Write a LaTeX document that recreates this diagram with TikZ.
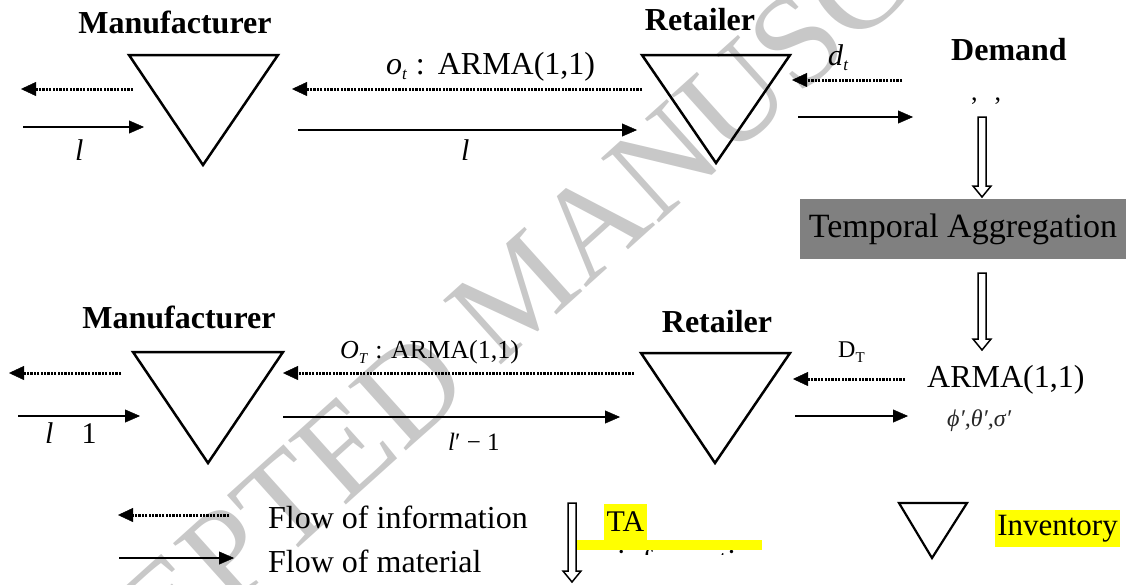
\documentclass[tikz,border=0pt]{standalone}
\usepackage{fontspec}
\setmainfont{Liberation Serif}
\usetikzlibrary{arrows.meta}
\definecolor{tagray}{RGB}{128,128,128}
\definecolor{hl}{RGB}{255,255,0}
\definecolor{wmgray}{RGB}{200,200,200}
\newcommand\fs[1]{\fontsize{#1}{#1}\selectfont}
\newcommand\lowsub[2][17]{\raisebox{-5pt}{\fs{#1}#2}}
\newcommand\hollowarrow[2]{%
  \draw[hol] ([xshift=-4pt]#1) -- ([xshift=4pt]#1) -- ([xshift=4pt,yshift=11pt]#2)
    -- ([xshift=9pt,yshift=11pt]#2) -- (#2) -- ([xshift=-9pt,yshift=11pt]#2)
    -- ([xshift=-4pt,yshift=11pt]#2) -- cycle;}
\begin{document}
\begin{tikzpicture}[x=1pt,y=-1pt,
  info/.style={line width=3pt, dash pattern=on 2.2pt off 1.2pt, -{Triangle[length=15pt,width=14pt,line width=0.4pt]}},
  mat/.style={line width=1.3pt, -{Triangle[length=15pt,width=13pt,line width=0.4pt]}},
  invtri/.style={line width=2.5pt, line join=miter},
  hol/.style={line width=1.5pt, line join=miter, fill=white},
  hd/.style={font=\fs{32}\bfseries, anchor=base, inner sep=0pt},
  lbl/.style={font=\fs{32}, anchor=base west, inner sep=0pt},
]
\useasboundingbox (0,0) rectangle (1126,584);

% watermark
\node[rotate=42, text=wmgray, font=\fs{132}, inner sep=0pt] (wmk) at (520,290) {ACCEPTED MANUSCRIPT};

% ---------- top row ----------
\node[hd] (man1) at (175,33) {Manufacturer};
\node[hd] (ret1) at (700,30) {Retailer};
\node[hd] (dem) at (1009,60) {Demand};

\coordinate (m1a) at (129,55); \coordinate (m1b) at (278,55); \coordinate (m1c) at (203,165);
\draw[invtri] (m1a) -- (m1b) -- (m1c) -- cycle;
\coordinate (r1a) at (642,55); \coordinate (r1b) at (790,55); \coordinate (r1c) at (716,163);
\draw[invtri] (r1a) -- (r1b) -- (r1c) -- cycle;

\coordinate (a1s) at (133,89);  \coordinate (a1e) at (21,89);
\coordinate (a2s) at (23,127);  \coordinate (a2e) at (144,127);
\coordinate (a3s) at (642,89);  \coordinate (a3e) at (292,89);
\coordinate (a4s) at (298,130); \coordinate (a4e) at (637,130);
\coordinate (a5s) at (902,80);  \coordinate (a5e) at (792,80);
\coordinate (a6s) at (798,117); \coordinate (a6e) at (913,117);
\draw[info] (a1s) -- (a1e);
\draw[mat]  (a2s) -- (a2e);
\draw[info] (a3s) -- (a3e);
\draw[mat]  (a4s) -- (a4e);
\draw[info] (a5s) -- (a5e);
\draw[mat]  (a6s) -- (a6e);

\node[lbl, font=\fs{30}\itshape] (l1) at (75,160) {l};
\node[lbl, font=\fs{30}\itshape] (l2) at (461,160) {l};
\node[lbl] (ot) at (386,74) {\textit{o}\lowsub{\itshape t}\hspace{9pt}:\hspace{13pt}ARMA(1,1)};
\node[lbl, font=\fs{30}] (dt) at (828,65) {\textit{d}\lowsub{\itshape t}};
\node[lbl, font=\fs{26}] (commas) at (971,100) {,\hspace{17pt},};

% temporal aggregation
\node[fill=tagray, minimum width=326pt, minimum height=60pt, inner sep=0pt, font=\fs{34}] (ta) at (963,229) {Temporal Aggregation};
\coordinate (h1s) at (982,117); \coordinate (h1e) at (982,197);
\coordinate (h2s) at (982,273); \coordinate (h2e) at (982,350);
\hollowarrow{h1s}{h1e}
\hollowarrow{h2s}{h2e}

% ---------- bottom row ----------
\node[hd] (man2) at (179,328) {Manufacturer};
\node[hd] (ret2) at (717,332) {Retailer};

\coordinate (m2a) at (133,352); \coordinate (m2b) at (283,352); \coordinate (m2c) at (208,463);
\draw[invtri] (m2a) -- (m2b) -- (m2c) -- cycle;
\coordinate (r2a) at (641,353); \coordinate (r2b) at (790,353); \coordinate (r2c) at (715,463);
\draw[invtri] (r2a) -- (r2b) -- (r2c) -- cycle;

\coordinate (b1s) at (121,373); \coordinate (b1e) at (9,373);
\coordinate (b2s) at (18,416);  \coordinate (b2e) at (140,416);
\coordinate (b3s) at (634,373); \coordinate (b3e) at (283,373);
\coordinate (b4s) at (283,417); \coordinate (b4e) at (620,417);
\coordinate (b5s) at (905,379); \coordinate (b5e) at (793,379);
\coordinate (b6s) at (795,416); \coordinate (b6e) at (908,416);
\draw[info] (b1s) -- (b1e);
\draw[mat]  (b2s) -- (b2e);
\draw[info] (b3s) -- (b3e);
\draw[mat]  (b4s) -- (b4e);
\draw[info] (b5s) -- (b5e);
\draw[mat]  (b6s) -- (b6e);

\node[lbl, font=\fs{30}] (l3) at (45,443) {\textit{l}\hspace{28pt}1};
\node[lbl, font=\fs{26}] (OT) at (340,358) {\textit{O}\lowsub[15]{\itshape T}\hspace{8pt}: ARMA(1,1)};
\node[lbl, font=\fs{25}] (lp) at (448,450) {\textit{l}′ − 1};
\node[lbl, font=\fs{24}] (DT) at (838,357) {D\lowsub[15]{T}};
\node[lbl] (arma) at (927,387) {ARMA(1,1)};
\node[lbl, font=\fs{24}\itshape, text=black!85] (par) at (947,426) {ϕ′,θ′,σ′};

% ---------- legend ----------
\coordinate (g1s) at (229,515); \coordinate (g1e) at (118,515);
\coordinate (g2s) at (119,558); \coordinate (g2e) at (234,558);
\draw[info] (g1s) -- (g1e);
\draw[mat]  (g2s) -- (g2e);
\node[lbl] (fi) at (268,528) {Flow of information};
\node[lbl] (fm) at (268,572) {Flow of material};

\fill[hl] (573,540) rectangle (762,550);
\begin{scope}
  \clip (573,550) rectangle (762,554);
  \node[lbl] (cut) at (617,571) {information};
\end{scope}
\coordinate (g3s) at (572,503); \coordinate (g3e) at (572,582);
\hollowarrow{g3s}{g3e}
\node[fill=hl, minimum width=43pt, minimum height=36pt, inner sep=0pt, font=\fs{30}, text depth=0pt] (tal) at (625.5,522) {TA};

\coordinate (i1a) at (899,503); \coordinate (i1b) at (967,503); \coordinate (i1c) at (932,558);
\draw[invtri, line width=2.2pt] (i1a) -- (i1b) -- (i1c) -- cycle;
\node[fill=hl, minimum width=125pt, minimum height=37pt, inner sep=0pt, font=\fs{31}] (invl) at (1057.5,528.5) {Inventory};
\end{tikzpicture}
\end{document}
